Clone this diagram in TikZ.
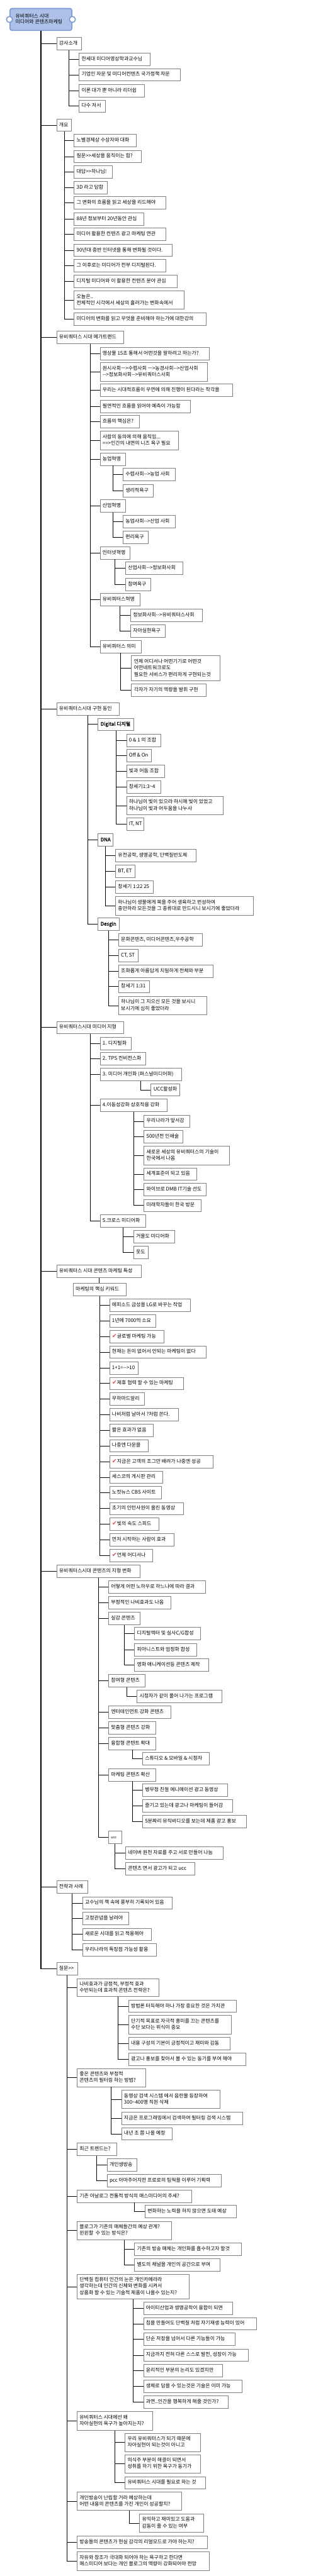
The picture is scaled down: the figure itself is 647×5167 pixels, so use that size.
\documentclass[tikz,border=0pt]{standalone}
\usepackage{fontspec}
\newfontfamily\kr{Noto Sans CJK KR}
\newfontfamily\krb[FakeBold=1.6]{Noto Sans CJK KR}
\newfontfamily\dejavu{DejaVu Sans}
\definecolor{rootfill}{RGB}{172,192,232}
\definecolor{rootline}{RGB}{120,152,214}
\definecolor{chkred}{RGB}{222,84,84}
\definecolor{boxline}{RGB}{128,128,128}
\newcommand\btxt[2]{\makebox[\dimexpr#1pt-10pt\relax][l]{\begin{tabular}{@{}l@{}}#2\end{tabular}}}
\newcommand\bxn[6]{\node[bx,minimum width=#4pt,minimum height=#5pt] (#1) at (#2,#3) {\btxt{#4}{#6}};}
\newcommand\chk{\textcolor{chkred}{\dejavu\fontsize{12}{12}\selectfont ✔}}
\tikzset{
  bx/.style={draw=boxline, fill=white, line width=1pt, inner xsep=5pt, inner ysep=0pt,
    anchor=north west, font=\kr\fontsize{10}{13}\selectfont, text=black},
  br/.style={draw=black, line width=0.9pt},
  trunk/.style={draw=black, line width=1.8pt},
  rootbox/.style={draw=rootline, fill=rootfill, line width=2pt, rounded corners=4pt,
    anchor=north west, inner xsep=11pt, inner ysep=0pt, minimum width=124pt, minimum height=44pt,
    font=\kr\fontsize{10}{12}\selectfont},
  knob/.style={circle, draw=rootline, fill=white, line width=2pt, minimum size=12pt, inner sep=0pt}
}
\begin{document}
\begin{tikzpicture}[x=1pt,y=-1pt]
\fill[white] (0,0) rectangle (647,5167);
\useasboundingbox (0,0) rectangle (647,5167);
% root
\node[rootbox] (R) at (19,16) {\makebox[102pt][l]{\begin{tabular}{@{}l@{}}유비쿼터스 시대\\미디어와 콘텐츠마케팅\end{tabular}}};
\node[knob] (RL) at (R.west) {};
\node[knob] (RR) at (R.east) {};
% level 1
\bxn{A}{113}{75}{50}{25}{강사소개}
\bxn{B}{113}{238}{30}{25}{개요}
\bxn{C}{113}{664}{134}{25}{유비쿼터스 시대 메가트랜드}
\bxn{D}{113}{1409}{125}{25}{유비쿼터스시대 구현 동인}
\bxn{E}{113}{2048}{134}{25}{유비쿼터스시대 미디어 지형}
\bxn{F}{113}{2537}{170}{25}{유비쿼터스 시대 콘텐츠 마케팅 특성}
\bxn{G}{113}{3139}{167}{25}{유비쿼터스시대 콘텐츠의 지형 변화}
\bxn{H}{113}{3772}{62}{25}{전략과 사례}
\bxn{Q}{113}{3936}{42}{25}{질문>>}
% A
\bxn{A1}{158}{106}{142}{25}{한세대 미디어영상학과교수님}
\bxn{A2}{158}{137}{203}{25}{기업인 자문 및 미디어컨텐츠 국가정책 자문}
\bxn{A3}{158}{169}{131}{25}{이론 대가 뿐 아니라 리더쉽}
\bxn{A4}{158}{200}{53}{25}{다수 저서}
% B
\bxn{B1}{148}{269}{125}{25}{노벨경제상 수상자와 대화}
\bxn{B2}{148}{301}{134}{25}{질문>>세상을 움직이는 힘?}
\bxn{B3}{148}{332}{76}{25}{대답>>하나님!}
\bxn{B4}{148}{363}{67}{25}{3D 라고 답함}
\bxn{B5}{148}{394}{184}{25}{그 변화의 흐름을 읽고 세상을 리드해야}
\bxn{B6}{148}{426}{139}{25}{88년 정보부터 20년동안 관심}
\bxn{B7}{148}{457}{184}{25}{미디어 활용한 컨텐츠 광고 마케팅 연관}
\bxn{B8}{148}{489}{197}{25}{90년대 중반 인터넷을 통해 변화될 것이다.}
\bxn{B9}{148}{520}{184}{25}{그 이후로는 미디어가 전부 디지털된다.}
\bxn{B10}{148}{551}{206}{25}{디지털 미디어와 이 활용한 컨텐츠 분야 관심}
\bxn{B11}{148}{583}{220}{37}{오늘은..\\전체적인 시각에서 세상의 흘러가는 변화속에서}
\bxn{B12}{148}{627}{265}{25}{미디어의 변화를 읽고 무엇을 준비해야 하는가에 대한강의}
% C
\bxn{C1}{200}{696}{219}{25}{영상물 15초 통해서 어떤것을 말하려고 하는가?}
\bxn{C2}{200}{727}{215}{37}{원시사회ㅡ>수렵사회 ㅡ>농경사회-->산업사회\\-->정보화사회-->유비쿼터스사회}
\bxn{C3}{200}{770}{265}{25}{우리는 시대적흐름이 우연에 의해 진행이 된다라는 착각을}
\bxn{C4}{200}{802}{181}{25}{필연적인 흐름을 읽어야 예측이 가능함}
\bxn{C5}{200}{833}{79}{25}{흐름의 핵심은?}
\bxn{C6}{200}{864}{157}{38}{사람의 동의에 의해 움직임...\\==>인간의 내면의 니즈 욕구 필요}
\bxn{C7}{200}{908}{51}{25}{농업혁명}
\bxn{C7a}{246}{939}{105}{25}{수렵사회-->농업 사회}
\bxn{C7b}{246}{971}{60}{25}{생리적욕구}
\bxn{C8}{200}{1002}{51}{25}{산업혁명}
\bxn{C8a}{246}{1033}{105}{25}{농업사회-->산업 사회}
\bxn{C8b}{246}{1065}{50}{25}{편리욕구}
\bxn{C9}{200}{1096}{60}{25}{인터넷혁명}
\bxn{C9a}{251}{1127}{115}{25}{산업사회-->정보화사회}
\bxn{C9b}{251}{1159}{50}{25}{참여욕구}
\bxn{C10}{200}{1190}{80}{25}{유비쿼터스혁명}
\bxn{C10a}{261}{1221}{144}{25}{정보화사회-->유비쿼터스사회}
\bxn{C10b}{261}{1253}{70}{25}{자아실현욕구}
\bxn{C11}{200}{1284}{83}{25}{유비쿼터스 의미}
\bxn{C11a}{263}{1315}{177}{50}{언제 어디서나 어떤기기로 어떤것\\어떤네트워크로도\\필요한 서비스가 편리하게 구현되는것}
\bxn{C11b}{263}{1371}{150}{25}{각자가 자기의 역량을 발휘 구현}
% D
\bxn{D1}{196}{1440}{72}{25}{\krb Digital 디지털}
\bxn{D1a}{253}{1472}{69}{25}{0 \& 1 의 조합}
\bxn{D1b}{253}{1503}{50}{25}{Off \& On}
\bxn{D1c}{253}{1534}{76}{25}{빛과 어둠 조합}
\bxn{D1d}{253}{1566}{69}{25}{창세기1:3\textasciitilde4}
\bxn{D1e}{253}{1597}{193}{37}{하나님이 빛이 있으라 하시매 빛이 있었고\\하나님이 빛과 어두움을 나누사}
\bxn{D1f}{253}{1640}{35}{25}{IT, NT}
\bxn{D2}{196}{1672}{30}{25}{\krb DNA}
\bxn{D2a}{231}{1703}{161}{25}{유전공학, 생명공학, 단백질반도체}
\bxn{D2b}{231}{1735}{39}{25}{BT, ET}
\bxn{D2c}{231}{1766}{76}{25}{창세기 1:22 25}
\bxn{D2d}{231}{1798}{276}{37}{하나님이 생물에게 복을 주어 생육하고 번성하여\\충만하라 모든것을 그 종류대로 만드시니 보시기에 좋았더라}
\bxn{D3}{196}{1841}{42}{25}{\krb Desgin}
\bxn{D3a}{237}{1872}{168}{25}{문화콘텐츠, 미디어콘텐츠,우주공학}
\bxn{D3b}{237}{1904}{39}{25}{CT, ST}
\bxn{D3c}{237}{1935}{190}{25}{조화롭게 아름답게 치밀하게 전체와 부분}
\bxn{D3d}{237}{1966}{62}{25}{창세기 1:31}
\bxn{D3e}{237}{1998}{177}{37}{하나님이 그 지으신 모든 것을 보시니\\보시기에 심히 좋았더라}
% E
\bxn{E1}{200}{2080}{62}{25}{1. 디지털화}
\bxn{E2}{200}{2111}{91}{25}{2. TPS 컨비전스화}
\bxn{E3}{200}{2142}{163}{25}{3. 미디어 개인화 (퍼스널미디어화)}
\bxn{E3a}{302}{2173}{58}{25}{UCC활성화}
\bxn{E4}{200}{2204}{134}{25}{4.이동성강화 상호작용 강화}
\bxn{E4a}{288}{2236}{92}{25}{우리나라가 앞서감}
\bxn{E4b}{288}{2267}{78}{25}{500년전 인쇄술}
\bxn{E4c}{288}{2299}{171}{37}{새로운 세상의 유비쿼터스의 기술이\\한국에서 나옴}
\bxn{E4d}{288}{2342}{105}{25}{세계표준이 되고 있음}
\bxn{E4e}{288}{2373}{124}{25}{와이브로 DMB IT기술 선도}
\bxn{E4f}{288}{2405}{115}{25}{미래학자들이 한국 방문}
\bxn{E5}{200}{2436}{91}{25}{5.크로스 미디어화}
\bxn{E5a}{267}{2468}{82}{25}{거울도 미디어화}
\bxn{E5b}{267}{2499}{30}{25}{옷도}
% F
\bxn{F0}{146}{2574}{106}{25}{마케팅의 핵심 키워드}
\bxn{F1}{219}{2605}{162}{25}{에피소드 금성을 LG로 바꾸는 작업}
\bxn{F2}{219}{2637}{93}{25}{1년에 7000억 소요}
\bxn{F3}{219}{2668}{109}{25}{\chk 글로벌 마케팅 가능}
\bxn{F4}{219}{2699}{194}{25}{현재는 돈이 없어서 안되는 마케팅이 없다}
\bxn{F5}{219}{2731}{57}{25}{1+1=-->10}
\bxn{F6}{219}{2762}{148}{25}{\chk 제휴 협력 할 수 있는 마케팅}
\bxn{F7}{219}{2793}{70}{25}{무하마드알리}
\bxn{F8}{219}{2825}{138}{25}{나비처럼 날아서 ?처럼 쏜다.}
\bxn{F9}{219}{2856}{87}{25}{짧은 효과가 없음}
\bxn{F10}{219}{2887}{77}{25}{나중엔 다운을}
\bxn{F11}{219}{2919}{207}{25}{\chk 지금은 고객의 조그만 배려가 나중엔 성공}
\bxn{F12}{219}{2950}{106}{25}{세스코의 게시판 관리}
\bxn{F13}{219}{2981}{104}{25}{노컷뉴스 CBS 사이트}
\bxn{F14}{219}{3013}{148}{25}{초기의 인턴사원이 올린 동영상}
\bxn{F15}{219}{3044}{99}{25}{\chk 빛의 속도 스피드}
\bxn{F16}{219}{3076}{129}{25}{먼저 시작하는 사람이 효과}
\bxn{F17}{219}{3107}{86}{25}{\chk 언제 어디서나}
% G
\bxn{G1}{217}{3170}{194}{25}{어떻게 어떤 노하우로 하느냐에 따라 결과}
\bxn{G2}{217}{3202}{125}{25}{부정적인 나비효과도 나옴}
\bxn{G3}{217}{3233}{63}{25}{실감 콘텐츠}
\bxn{G3a}{269}{3264}{132}{25}{디지털액터 및 실사C/G합성}
\bxn{G3b}{269}{3296}{125}{25}{피아니스트와 엄정화 합성}
\bxn{G3c}{269}{3327}{148}{25}{영화 애니케이션등 콘텐츠 제작}
\bxn{G4}{217}{3358}{73}{25}{참여형 콘텐츠}
\bxn{G4a}{274}{3390}{170}{25}{시청자가 같이 풀어 나가는 프로그램}
\bxn{G5}{217}{3421}{125}{25}{엔터테인먼트 강화 콘텐츠}
\bxn{G6}{217}{3453}{95}{25}{맞춤형 콘텐츠 강화}
\bxn{G7}{217}{3484}{95}{25}{융합형 콘텐트 확대}
\bxn{G7a}{285}{3515}{134}{25}{스튜디오 \& 모바일 \& 시청자}
\bxn{G8}{217}{3547}{95}{25}{마케팅 콘텐츠 확산}
\bxn{G8a}{285}{3578}{171}{25}{병무청 친절 에니메이션 광고 동영상}
\bxn{G8b}{285}{3609}{180}{25}{즐기고 있는데 광고나 마케팅이 들어감}
\bxn{G8c}{285}{3641}{208}{25}{5분짜리 뮤직비디오를 보는데 제품 광고 홍보}
\bxn{G9}{217}{3672}{26}{25}{\fontsize{7}{9}\selectfont ucc}
\bxn{G9a}{251}{3704}{196}{25}{네이버 원천 자료를 주고 서로 만들어 나눔}
\bxn{G9b}{251}{3735}{139}{25}{콘텐츠 면서 광고가 되고 ucc}
% H
\bxn{H1}{165}{3804}{180}{25}{교수님의 책 속에 풍부히 기록되어 있음}
\bxn{H2}{165}{3835}{92}{25}{고정관념을 날려야}
\bxn{H3}{165}{3867}{138}{25}{새로운 시대를 읽고 적용해야}
\bxn{H4}{165}{3898}{148}{25}{우리나라의 특장점 가능성 활용}
% Q
\bxn{Q1}{154}{3968}{164}{36}{나비효과가 긍정적, 부정적 효과\\수반되는데 효과적 콘텐츠 전략은?}
\bxn{Q1a}{257}{4011}{216}{25}{방법론 터득해야 하나 가장 중요한 것은 가치관}
\bxn{Q1b}{257}{4042}{206}{37}{단기적 목표로 자극적 흥미를 끄는 콘텐츠를\\수단 보다는 위식이 중요}
\bxn{Q1c}{257}{4086}{203}{25}{내용 구성의 기본이 긍정적이고 재미와 감동}
\bxn{Q1d}{257}{4117}{235}{25}{광고나 홍보를 찾아서 볼 수 있는 동기를 부여 해야}
\bxn{Q2}{154}{4149}{137}{36}{좋은 콘텐츠와 부정적\\콘텐츠의 필터링 하는 방법?}
\bxn{Q2a}{243}{4192}{197}{37}{동영상 검색 시스템 에서 음란물 등장하여\\300\textasciitilde400명 직원 삭제}
\bxn{Q2b}{243}{4236}{243}{25}{지금은 프로그래밍에서 검색하여 필터링 검색 시스템}
\bxn{Q2c}{243}{4267}{102}{25}{내년 초 쯤 나올 예정}
\bxn{Q3}{154}{4298}{79}{25}{최근 트렌드는?}
\bxn{Q3a}{214}{4329}{60}{25}{개인생방송}
\bxn{Q3b}{214}{4361}{229}{25}{pcc 아마추어지만 프로로의 팀웍을 이루어 기획력}
\bxn{Q4}{154}{4392}{229}{25}{기존 아날로그 전통적 방식의 매스미디어의 추세?}
\bxn{Q4a}{290}{4423}{183}{25}{변화하는 노력을 하지 않으면 도태 예상}
\bxn{Q5}{154}{4455}{189}{37}{블로그가 기존의 매체들간의 예상 관계?\\윈윈할 \ 수 있는 방식은?}
\bxn{Q5a}{269}{4498}{214}{25}{기존의 방송 매체는 개인화를 흡수하고자 할것}
\bxn{Q5b}{269}{4530}{171}{25}{별도의 채널을 개인의 공간으로 부여}
\bxn{Q6}{154}{4561}{225}{50}{단백질 컴퓨터 인간의 눈은 개인카메라라\\생각하는데 인간의 신체와 변화를 시켜서\\상품화 할 수 있는 기술적 제품이 나올수 있는지?}
\bxn{Q6a}{287}{4617}{178}{25}{아이티산업과 생명공학이 융합이 되면}
\bxn{Q6b}{287}{4648}{226}{25}{칩을 만들어도 단백질 처럼 자기재생 능력이 있어}
\bxn{Q6c}{287}{4679}{184}{25}{단순 저장을 넘어서 다른 기능들이 가능}
\bxn{Q6d}{287}{4711}{210}{25}{지금까지 전혀 다른 스스로 발전, 성장이 가능}
\bxn{Q6e}{287}{4742}{158}{25}{윤리적인 부분의 논리도 있겠지만}
\bxn{Q6f}{287}{4773}{197}{25}{생체로 담을 수 있는것은 기술은 이미 가능}
\bxn{Q6g}{287}{4805}{170}{25}{과연..인간을 행복하게 해줄 것인가?}
\bxn{Q7}{154}{4837}{151}{37}{유비쿼터스 시대에선 왜\\자아실현의 욕구가 높아지는지?}
\bxn{Q7a}{250}{4880}{151}{37}{우리 유비쿼터스가 되기 때문에\\자아실현이 되는것이 아니고}
\bxn{Q7b}{250}{4923}{151}{37}{의식주 부분이 해결이 되면서\\성취를 하기 위한 욕구가 동기가}
\bxn{Q7c}{250}{4967}{161}{25}{유비쿼터스 시대를 필요로 하는 것}
\bxn{Q8}{154}{4998}{209}{37}{개인방송이 난립할 거라 예상하는데\\어떤 내용의 콘텐츠를 가진 개인이 성공할지?}
\bxn{Q8a}{279}{5042}{128}{37}{유익하고 재미있고 도움과\\감동이 줄 수 있는 여부}
\bxn{Q9}{154}{5086}{261}{25}{방송들의 콘텐츠가 현실 감각의 리얼모드로 가야 하는지?}
\bxn{Q10}{154}{5118}{265}{37}{자유와 창조가 극대화 되어야 하는 욕구하고 한다면\\매스미디어 보다는 개인 블로그의 역량이 강화되어야 전망}
% connectors
\draw[trunk] (R.south) -- (R.south |- Q.west);
\foreach \c in {A,B,C,D,E,F,G,H,Q} \draw[br] (R.south |- \c.west) -- (\c.west);
\foreach \c in {A1,A2,A3,A4} \draw[br] (A.south) |- (\c.west);
\foreach \c in {B1,B2,B3,B4,B5,B6,B7,B8,B9,B10,B11,B12} \draw[br] (B.south) |- (\c.west);
\foreach \c in {C1,C2,C3,C4,C5,C6,C7,C8,C9,C10,C11} \draw[br] (C.south) |- (\c.west);
\foreach \c in {C7a,C7b} \draw[br] (C7.south) |- (\c.west);
\foreach \c in {C8a,C8b} \draw[br] (C8.south) |- (\c.west);
\foreach \c in {C9a,C9b} \draw[br] (C9.south) |- (\c.west);
\foreach \c in {C10a,C10b} \draw[br] (C10.south) |- (\c.west);
\foreach \c in {C11a,C11b} \draw[br] (C11.south) |- (\c.west);
\foreach \c in {D1,D2,D3} \draw[br] (D.south) |- (\c.west);
\foreach \c in {D1a,D1b,D1c,D1d,D1e,D1f} \draw[br] (D1.south) |- (\c.west);
\foreach \c in {D2a,D2b,D2c,D2d} \draw[br] (D2.south) |- (\c.west);
\foreach \c in {D3a,D3b,D3c,D3d,D3e} \draw[br] (D3.south) |- (\c.west);
\foreach \c in {E1,E2,E3,E4,E5} \draw[br] (E.south) |- (\c.west);
\draw[br] (E3.south) |- (E3a.west);
\foreach \c in {E4a,E4b,E4c,E4d,E4e,E4f} \draw[br] (E4.south) |- (\c.west);
\foreach \c in {E5a,E5b} \draw[br] (E5.south) |- (\c.west);
\draw[br] (F.south) -- (F.south |- F0.north);
\foreach \c in {F1,F2,F3,F4,F5,F6,F7,F8,F9,F10,F11,F12,F13,F14,F15,F16,F17} \draw[br] (F0.south) |- (\c.west);
\foreach \c in {G1,G2,G3,G4,G5,G6,G7,G8,G9} \draw[br] (G.south) |- (\c.west);
\foreach \c in {G3a,G3b,G3c} \draw[br] (G3.south) |- (\c.west);
\draw[br] (G4.south) |- (G4a.west);
\draw[br] (G7.south) |- (G7a.west);
\foreach \c in {G8a,G8b,G8c} \draw[br] (G8.south) |- (\c.west);
\foreach \c in {G9a,G9b} \draw[br] (G9.south) |- (\c.west);
\foreach \c in {H1,H2,H3,H4} \draw[br] (H.south) |- (\c.west);
\foreach \c in {Q1,Q2,Q3,Q4,Q5,Q6,Q7,Q8,Q9,Q10} \draw[br] (Q.south) |- (\c.west);
\foreach \c in {Q1a,Q1b,Q1c,Q1d} \draw[br] (Q1.south) |- (\c.west);
\foreach \c in {Q2a,Q2b,Q2c} \draw[br] (Q2.south) |- (\c.west);
\foreach \c in {Q3a,Q3b} \draw[br] (Q3.south) |- (\c.west);
\draw[br] (Q4.south) |- (Q4a.west);
\foreach \c in {Q5a,Q5b} \draw[br] (Q5.south) |- (\c.west);
\foreach \c in {Q6a,Q6b,Q6c,Q6d,Q6e,Q6f,Q6g} \draw[br] (Q6.south) |- (\c.west);
\foreach \c in {Q7a,Q7b,Q7c} \draw[br] (Q7.south) |- (\c.west);
\draw[br] (Q8.south) |- (Q8a.west);
\end{tikzpicture}
\end{document}
